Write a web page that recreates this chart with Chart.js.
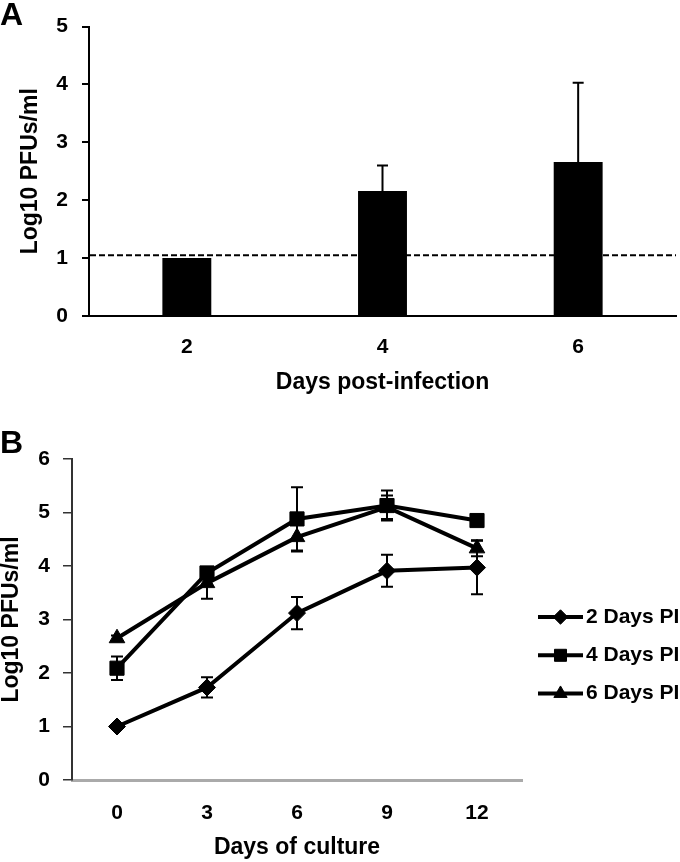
<!DOCTYPE html>
<html>
<head>
<meta charset="utf-8">
<script src="https://cdn.jsdelivr.net/npm/chart.js@4.4.1/dist/chart.umd.min.js"></script>
<style>
  html, body { margin: 0; padding: 0; background: #fff; }
  #wrap { position: relative; width: 680px; height: 862px; overflow: hidden; }
  canvas { position: absolute; left: 0; }
  #chartA { top: 0; }
  #chartB { top: 420px; }
  .panel { position: absolute; left: 0; font: bold 32px "Liberation Sans", Arial, sans-serif; line-height: 1; color: #000; }
</style>
</head>
<body>
<div id="wrap">
  <canvas id="chartA" width="680" height="420"></canvas>
  <canvas id="chartB" width="680" height="442"></canvas>
  <div class="panel" style="top:-2px">A</div>
  <div class="panel" style="top:426px">B</div>
</div>
<script>
// Panel A: titre by day post-infection
const daysA = ['2', '4', '6'];
const meanA = [1.0, 2.16, 2.66];
const errA = [0, 0.44, 1.37];
const detectionLimit = 1.05;

// Panel B: titre over days of culture
const daysB = ['0', '3', '6', '9', '12'];
const pi2 = [1.0, 1.73, 3.12, 3.91, 3.97];
const pi2Err = [0, 0.19, 0.30, 0.30, 0.50];
const pi4 = [2.09, 3.87, 4.88, 5.13, 4.85];
const pi4Err = [0.22, 0.05, 0.59, 0.28, 0];
const pi6 = [2.65, 3.68, 4.54, 5.10, 4.33];
const pi6Err = [0.05, 0.29, 0.27, 0.22, 0.15];
const seriesNames = ['2 Days PI', '4 Days PI', '6 Days PI'];

const FONT = '"Liberation Sans", Arial, sans-serif';
Chart.defaults.font.family = FONT;
Chart.defaults.color = '#000';
Chart.defaults.animation = false;

// error bars, drawn from the dataset's "errors" array
const errorBars = {
  id: 'errorBars',
  afterDatasetsDraw(chart, args, opts) {
    const ctx = chart.ctx;
    const yScale = chart.scales.y;
    chart.data.datasets.forEach((ds, di) => {
      if (!ds.errors) return;
      const meta = chart.getDatasetMeta(di);
      ds.data.forEach((v, i) => {
        const e = ds.errors[i];
        if (!e) return;
        const x = meta.data[i].x;
        const yTop = yScale.getPixelForValue(v + e);
        const yBot = opts.upOnly ? yScale.getPixelForValue(v) : yScale.getPixelForValue(v - e);
        ctx.save();
        ctx.strokeStyle = '#000';
        ctx.lineWidth = opts.lineWidth;
        ctx.beginPath();
        ctx.moveTo(x, yTop);
        ctx.lineTo(x, yBot);
        ctx.moveTo(x - opts.cap / 2, yTop);
        ctx.lineTo(x + opts.cap / 2, yTop);
        if (!opts.upOnly) {
          ctx.moveTo(x - opts.cap / 2, yBot);
          ctx.lineTo(x + opts.cap / 2, yBot);
        }
        ctx.stroke();
        ctx.restore();
      });
    });
  }
};

// dashed detection limit across the plot area
const limitLine = {
  id: 'limitLine',
  beforeDatasetsDraw(chart, args, opts) {
    if (opts.value == null) return;
    const { ctx, chartArea } = chart;
    const y = chart.scales.y.getPixelForValue(opts.value);
    ctx.save();
    ctx.strokeStyle = '#000';
    ctx.lineWidth = 2;
    ctx.setLineDash([6, 3]);
    ctx.beginPath();
    ctx.moveTo(chartArea.left + 1, y);
    ctx.lineTo(chartArea.right, y);
    ctx.stroke();
    ctx.restore();
  }
};

// legend with line + marker sample
const lineLegend = {
  id: 'lineLegend',
  afterDraw(chart, args, opts) {
    if (!opts.x) return;
    const ctx = chart.ctx;
    chart.data.datasets.forEach((ds, i) => {
      const y = opts.top + i * opts.gap;
      ctx.save();
      ctx.strokeStyle = '#000';
      ctx.fillStyle = '#000';
      ctx.lineWidth = 4;
      ctx.beginPath();
      ctx.moveTo(opts.x, y);
      ctx.lineTo(opts.x + opts.width, y);
      ctx.stroke();
      ctx.lineWidth = 1;
      Chart.helpers.drawPoint(ctx, {
        pointStyle: ds.pointStyle,
        radius: ds.pointRadius * 0.85,
        borderWidth: 1,
        rotation: 0
      }, opts.x + opts.width / 2, y);
      ctx.font = 'bold 21px ' + FONT;
      ctx.textBaseline = 'middle';
      ctx.textAlign = 'left';
      ctx.fillText(ds.label, opts.x + opts.width + 3, y);
      ctx.restore();
    });
  }
};

const tickFont = { size: 21, weight: 'bold' };
const titleFont = { size: 23, weight: 'bold', lineHeight: 1 };

new Chart(document.getElementById('chartA'), {
  type: 'bar',
  data: {
    labels: daysA,
    datasets: [{
      data: meanA,
      errors: errA,
      backgroundColor: '#000',
      borderWidth: 0,
      categoryPercentage: 1,
      barPercentage: 0.25
    }]
  },
  options: {
    responsive: false,
    layout: { padding: { top: 20, right: 4, left: 0, bottom: 0 } },
    plugins: {
      legend: { display: false },
      tooltip: { enabled: false },
      errorBars: { upOnly: true, cap: 11, lineWidth: 2 },
      limitLine: { value: detectionLimit }
    },
    scales: {
      x: {
        grid: { display: false, drawTicks: false },
        border: { color: '#000', width: 2 },
        ticks: { font: tickFont, padding: 19, color: '#000' },
        title: { display: true, text: 'Days post-infection', font: titleFont, color: '#000', padding: { top: 0, bottom: 26 } },
        afterFit(s) { s.height = 104; }
      },
      y: {
        min: 0,
        max: 5,
        ticks: { stepSize: 1, font: tickFont, padding: 14, color: '#000' },
        grid: { drawOnChartArea: false, drawTicks: true, tickLength: 7, color: '#000', lineWidth: 2 },
        border: { color: '#000', width: 2 },
        title: { display: true, text: 'Log10 PFUs/ml', font: titleFont, color: '#000', padding: { top: 19, bottom: 0 } },
        afterFit(s) { s.width = 89; }
      }
    }
  },
  plugins: [errorBars, limitLine]
});

const lineStyle = {
  borderColor: '#000',
  backgroundColor: '#000',
  borderWidth: 4,
  pointBackgroundColor: '#000',
  pointBorderColor: '#000',
  pointBorderWidth: 1,
  tension: 0
};

new Chart(document.getElementById('chartB'), {
  type: 'line',
  data: {
    labels: daysB,
    datasets: [
      { ...lineStyle, label: seriesNames[0], data: pi2, errors: pi2Err, pointStyle: 'rectRot', pointRadius: 8.5 },
      { ...lineStyle, label: seriesNames[1], data: pi4, errors: pi4Err, pointStyle: 'rect', pointRadius: 10 },
      { ...lineStyle, label: seriesNames[2], data: pi6, errors: pi6Err, pointStyle: 'triangle', pointRadius: 9 }
    ]
  },
  options: {
    responsive: false,
    layout: { padding: { top: 39, right: 158, left: 0, bottom: 0 } },
    plugins: {
      legend: { display: false },
      tooltip: { enabled: false },
      errorBars: { upOnly: false, cap: 12, lineWidth: 2 },
      lineLegend: { x: 538, width: 45, top: 197, gap: 38.3 }
    },
    scales: {
      x: {
        offset: true,
        grid: { display: false, drawTicks: false },
        border: { color: '#aaa', width: 3 },
        ticks: { font: tickFont, padding: 21, color: '#000' },
        title: { display: true, text: 'Days of culture', font: titleFont, color: '#000', padding: { top: 0, bottom: 3 } },
        afterFit(s) { s.height = 82; }
      },
      y: {
        min: 0,
        max: 6,
        ticks: { stepSize: 1, font: tickFont, padding: 13, color: '#000' },
        grid: { drawOnChartArea: false, drawTicks: true, tickLength: 9, color: '#333', lineWidth: 1.5 },
        border: { color: '#333', width: 2 },
        title: { display: true, text: 'Log10 PFUs/ml', font: titleFont, color: '#000', padding: { top: 0, bottom: 0 } },
        afterFit(s) { s.width = 72; }
      }
    }
  },
  plugins: [errorBars, lineLegend]
});
</script>
</body>
</html>
